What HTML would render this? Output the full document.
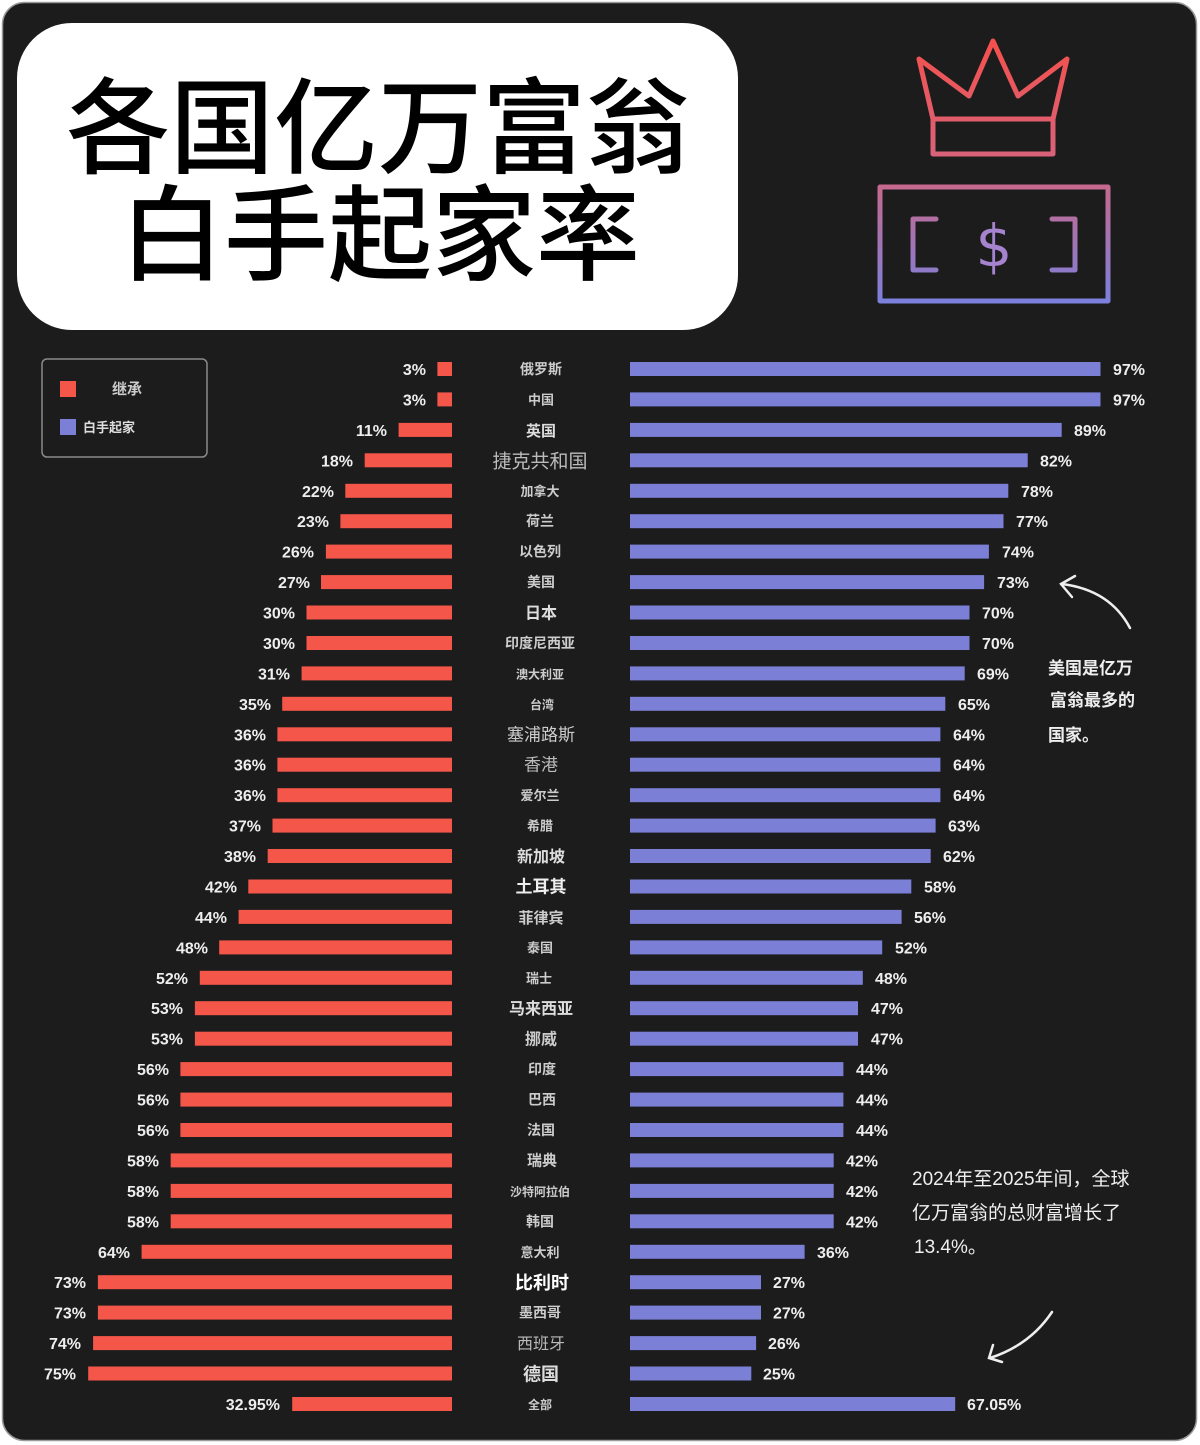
<!DOCTYPE html>
<html><head><meta charset="utf-8"><style>
html,body{margin:0;padding:0;background:#fff;}
svg{display:block;}
</style></head><body>
<svg width="1200" height="1445" viewBox="0 0 1200 1445" xmlns="http://www.w3.org/2000/svg" font-family="Liberation Sans, Noto Sans CJK SC, sans-serif">
<defs>
<linearGradient id="g" x1="0" y1="40" x2="0" y2="302" gradientUnits="userSpaceOnUse">
<stop offset="0" stop-color="#f5504c"/><stop offset="0.45" stop-color="#d8637a"/><stop offset="1" stop-color="#7b80dc"/>
</linearGradient>
</defs>
<rect x="2.5" y="2.5" width="1194" height="1438" rx="22" fill="#1c1c1d" stroke="#9a9a9a" stroke-width="1.5"/>
<rect x="17" y="23" width="721" height="307" rx="55" fill="#fff"/>
<text x="378" y="165" text-anchor="middle" font-size="104" font-family="Noto Sans CJK SC, sans-serif" font-weight="500" fill="#000">各国亿万富翁</text>
<text x="380" y="272" text-anchor="middle" font-size="104" font-family="Noto Sans CJK SC, sans-serif" font-weight="500" fill="#000">白手起家率</text>
<g fill="none" stroke="url(#g)" stroke-width="5" stroke-linejoin="round" stroke-linecap="round">
<polyline points="933,119 919,59 969,96 993,41 1018,96 1067,59 1053,119"/>
<rect x="933" y="119" width="120" height="35"/>
<rect x="880" y="187" width="228" height="114"/>
<polyline points="936,219 913,219 913,270 936,270"/>
<polyline points="1052,219 1075,219 1075,270 1052,270"/>
</g>
<text x="994" y="266" text-anchor="middle" font-size="58" fill="#a583cf" font-family="DejaVu Sans, sans-serif">$</text>
<rect x="42" y="359" width="165" height="98" rx="5" fill="none" stroke="#8a8a8a" stroke-width="1.5"/>
<rect x="60" y="381" width="16" height="16" fill="#f5564a"/>
<rect x="60" y="419" width="16" height="16" fill="#7b7fd6"/>
<text x="112" y="394" font-size="15" fill="#ccc" font-weight="bold">继承</text>
<text x="83" y="432" font-size="13" fill="#ddd" font-weight="bold">白手起家</text>
<g font-weight="bold" font-size="16" fill="#eee">
<g transform="translate(0,369)"><rect x="437.4" y="-7" width="14.6" height="14" fill="#f5564a"/><text x="426" y="6" text-anchor="end">3%</text><text x="541" y="5" text-anchor="middle" font-size="14" fill="#ccc">俄罗斯</text><rect x="630" y="-7" width="470.5" height="14" fill="#7b7fd6"/><text x="1113" y="6">97%</text></g>
<g transform="translate(0,399.4)"><rect x="437.4" y="-7" width="14.6" height="14" fill="#f5564a"/><text x="426" y="6" text-anchor="end">3%</text><text x="541" y="5" text-anchor="middle" font-size="13" fill="#ccc">中国</text><rect x="630" y="-7" width="470.5" height="14" fill="#7b7fd6"/><text x="1113" y="6">97%</text></g>
<g transform="translate(0,429.9)"><rect x="398.6" y="-7" width="53.4" height="14" fill="#f5564a"/><text x="387" y="6" text-anchor="end">11%</text><text x="541" y="6" text-anchor="middle" font-size="15" fill="#ddd">英国</text><rect x="630" y="-7" width="431.7" height="14" fill="#7b7fd6"/><text x="1074" y="6">89%</text></g>
<g transform="translate(0,460.3)"><rect x="364.7" y="-7" width="87.3" height="14" fill="#f5564a"/><text x="353" y="6" text-anchor="end">18%</text><text x="540" y="7" text-anchor="middle" font-size="19" fill="#bbb" font-weight="normal">捷克共和国</text><rect x="630" y="-7" width="397.7" height="14" fill="#7b7fd6"/><text x="1040" y="6">82%</text></g>
<g transform="translate(0,490.8)"><rect x="345.3" y="-7" width="106.7" height="14" fill="#f5564a"/><text x="334" y="6" text-anchor="end">22%</text><text x="540" y="5" text-anchor="middle" font-size="13" fill="#ccc">加拿大</text><rect x="630" y="-7" width="378.3" height="14" fill="#7b7fd6"/><text x="1021" y="6">78%</text></g>
<g transform="translate(0,521.2)"><rect x="340.4" y="-7" width="111.6" height="14" fill="#f5564a"/><text x="329" y="6" text-anchor="end">23%</text><text x="540" y="5" text-anchor="middle" font-size="14" fill="#ccc">荷兰</text><rect x="630" y="-7" width="373.5" height="14" fill="#7b7fd6"/><text x="1016" y="6">77%</text></g>
<g transform="translate(0,551.6)"><rect x="325.9" y="-7" width="126.1" height="14" fill="#f5564a"/><text x="314" y="6" text-anchor="end">26%</text><text x="540" y="5" text-anchor="middle" font-size="14" fill="#ccc">以色列</text><rect x="630" y="-7" width="358.9" height="14" fill="#7b7fd6"/><text x="1002" y="6">74%</text></g>
<g transform="translate(0,582.1)"><rect x="321" y="-7" width="131" height="14" fill="#f5564a"/><text x="310" y="6" text-anchor="end">27%</text><text x="541" y="5" text-anchor="middle" font-size="14" fill="#ccc">美国</text><rect x="630" y="-7" width="354.1" height="14" fill="#7b7fd6"/><text x="997" y="6">73%</text></g>
<g transform="translate(0,612.5)"><rect x="306.5" y="-7" width="145.5" height="14" fill="#f5564a"/><text x="295" y="6" text-anchor="end">30%</text><text x="541" y="6" text-anchor="middle" font-size="16" fill="#ddd">日本</text><rect x="630" y="-7" width="339.5" height="14" fill="#7b7fd6"/><text x="982" y="6">70%</text></g>
<g transform="translate(0,643)"><rect x="306.5" y="-7" width="145.5" height="14" fill="#f5564a"/><text x="295" y="6" text-anchor="end">30%</text><text x="540" y="5" text-anchor="middle" font-size="14" fill="#ccc">印度尼西亚</text><rect x="630" y="-7" width="339.5" height="14" fill="#7b7fd6"/><text x="982" y="6">70%</text></g>
<g transform="translate(0,673.4)"><rect x="301.6" y="-7" width="150.4" height="14" fill="#f5564a"/><text x="290" y="6" text-anchor="end">31%</text><text x="540" y="5" text-anchor="middle" font-size="12" fill="#ccc">澳大利亚</text><rect x="630" y="-7" width="334.7" height="14" fill="#7b7fd6"/><text x="977" y="6">69%</text></g>
<g transform="translate(0,703.8)"><rect x="282.2" y="-7" width="169.8" height="14" fill="#f5564a"/><text x="271" y="6" text-anchor="end">35%</text><text x="542" y="5" text-anchor="middle" font-size="12" fill="#ccc">台湾</text><rect x="630" y="-7" width="315.3" height="14" fill="#7b7fd6"/><text x="958" y="6">65%</text></g>
<g transform="translate(0,734.3)"><rect x="277.4" y="-7" width="174.6" height="14" fill="#f5564a"/><text x="266" y="6" text-anchor="end">36%</text><text x="541" y="6" text-anchor="middle" font-size="17" fill="#ccc" font-weight="normal">塞浦路斯</text><rect x="630" y="-7" width="310.4" height="14" fill="#7b7fd6"/><text x="953" y="6">64%</text></g>
<g transform="translate(0,764.7)"><rect x="277.4" y="-7" width="174.6" height="14" fill="#f5564a"/><text x="266" y="6" text-anchor="end">36%</text><text x="541" y="6" text-anchor="middle" font-size="17" fill="#bbb" font-weight="normal">香港</text><rect x="630" y="-7" width="310.4" height="14" fill="#7b7fd6"/><text x="953" y="6">64%</text></g>
<g transform="translate(0,795.2)"><rect x="277.4" y="-7" width="174.6" height="14" fill="#f5564a"/><text x="266" y="6" text-anchor="end">36%</text><text x="540" y="5" text-anchor="middle" font-size="13" fill="#ccc">爱尔兰</text><rect x="630" y="-7" width="310.4" height="14" fill="#7b7fd6"/><text x="953" y="6">64%</text></g>
<g transform="translate(0,825.6)"><rect x="272.5" y="-7" width="179.5" height="14" fill="#f5564a"/><text x="261" y="6" text-anchor="end">37%</text><text x="540" y="5" text-anchor="middle" font-size="13" fill="#ccc">希腊</text><rect x="630" y="-7" width="305.6" height="14" fill="#7b7fd6"/><text x="948" y="6">63%</text></g>
<g transform="translate(0,856)"><rect x="267.7" y="-7" width="184.3" height="14" fill="#f5564a"/><text x="256" y="6" text-anchor="end">38%</text><text x="541" y="6" text-anchor="middle" font-size="16" fill="#ddd">新加坡</text><rect x="630" y="-7" width="300.7" height="14" fill="#7b7fd6"/><text x="943" y="6">62%</text></g>
<g transform="translate(0,886.5)"><rect x="248.3" y="-7" width="203.7" height="14" fill="#f5564a"/><text x="237" y="6" text-anchor="end">42%</text><text x="541" y="6" text-anchor="middle" font-size="17" fill="#eee">土耳其</text><rect x="630" y="-7" width="281.3" height="14" fill="#7b7fd6"/><text x="924" y="6">58%</text></g>
<g transform="translate(0,916.9)"><rect x="238.6" y="-7" width="213.4" height="14" fill="#f5564a"/><text x="227" y="6" text-anchor="end">44%</text><text x="541" y="6" text-anchor="middle" font-size="15" fill="#ccc">菲律宾</text><rect x="630" y="-7" width="271.6" height="14" fill="#7b7fd6"/><text x="914" y="6">56%</text></g>
<g transform="translate(0,947.4)"><rect x="219.2" y="-7" width="232.8" height="14" fill="#f5564a"/><text x="208" y="6" text-anchor="end">48%</text><text x="540" y="5" text-anchor="middle" font-size="13" fill="#ccc">泰国</text><rect x="630" y="-7" width="252.2" height="14" fill="#7b7fd6"/><text x="895" y="6">52%</text></g>
<g transform="translate(0,977.8)"><rect x="199.8" y="-7" width="252.2" height="14" fill="#f5564a"/><text x="188" y="6" text-anchor="end">52%</text><text x="539" y="5" text-anchor="middle" font-size="13" fill="#ccc">瑞士</text><rect x="630" y="-7" width="232.8" height="14" fill="#7b7fd6"/><text x="875" y="6">48%</text></g>
<g transform="translate(0,1008.2)"><rect x="194.9" y="-7" width="257.1" height="14" fill="#f5564a"/><text x="183" y="6" text-anchor="end">53%</text><text x="541" y="6" text-anchor="middle" font-size="16" fill="#ddd">马来西亚</text><rect x="630" y="-7" width="228" height="14" fill="#7b7fd6"/><text x="871" y="6">47%</text></g>
<g transform="translate(0,1038.7)"><rect x="194.9" y="-7" width="257.1" height="14" fill="#f5564a"/><text x="183" y="6" text-anchor="end">53%</text><text x="541" y="6" text-anchor="middle" font-size="16" fill="#ccc">挪威</text><rect x="630" y="-7" width="228" height="14" fill="#7b7fd6"/><text x="871" y="6">47%</text></g>
<g transform="translate(0,1069.1)"><rect x="180.4" y="-7" width="271.6" height="14" fill="#f5564a"/><text x="169" y="6" text-anchor="end">56%</text><text x="542" y="5" text-anchor="middle" font-size="14" fill="#ccc">印度</text><rect x="630" y="-7" width="213.4" height="14" fill="#7b7fd6"/><text x="856" y="6">44%</text></g>
<g transform="translate(0,1099.6)"><rect x="180.4" y="-7" width="271.6" height="14" fill="#f5564a"/><text x="169" y="6" text-anchor="end">56%</text><text x="542" y="5" text-anchor="middle" font-size="14" fill="#ccc">巴西</text><rect x="630" y="-7" width="213.4" height="14" fill="#7b7fd6"/><text x="856" y="6">44%</text></g>
<g transform="translate(0,1130)"><rect x="180.4" y="-7" width="271.6" height="14" fill="#f5564a"/><text x="169" y="6" text-anchor="end">56%</text><text x="541" y="5" text-anchor="middle" font-size="14" fill="#ccc">法国</text><rect x="630" y="-7" width="213.4" height="14" fill="#7b7fd6"/><text x="856" y="6">44%</text></g>
<g transform="translate(0,1160.4)"><rect x="170.7" y="-7" width="281.3" height="14" fill="#f5564a"/><text x="159" y="6" text-anchor="end">58%</text><text x="542" y="5" text-anchor="middle" font-size="15" fill="#ccc">瑞典</text><rect x="630" y="-7" width="203.7" height="14" fill="#7b7fd6"/><text x="846" y="6">42%</text></g>
<g transform="translate(0,1190.9)"><rect x="170.7" y="-7" width="281.3" height="14" fill="#f5564a"/><text x="159" y="6" text-anchor="end">58%</text><text x="540" y="5" text-anchor="middle" font-size="12" fill="#ccc">沙特阿拉伯</text><rect x="630" y="-7" width="203.7" height="14" fill="#7b7fd6"/><text x="846" y="6">42%</text></g>
<g transform="translate(0,1221.3)"><rect x="170.7" y="-7" width="281.3" height="14" fill="#f5564a"/><text x="159" y="6" text-anchor="end">58%</text><text x="540" y="5" text-anchor="middle" font-size="14" fill="#ccc">韩国</text><rect x="630" y="-7" width="203.7" height="14" fill="#7b7fd6"/><text x="846" y="6">42%</text></g>
<g transform="translate(0,1251.8)"><rect x="141.6" y="-7" width="310.4" height="14" fill="#f5564a"/><text x="130" y="6" text-anchor="end">64%</text><text x="540" y="5" text-anchor="middle" font-size="13" fill="#ccc">意大利</text><rect x="630" y="-7" width="174.6" height="14" fill="#7b7fd6"/><text x="817" y="6">36%</text></g>
<g transform="translate(0,1282.2)"><rect x="97.9" y="-7" width="354.1" height="14" fill="#f5564a"/><text x="86" y="6" text-anchor="end">73%</text><text x="542" y="7" text-anchor="middle" font-size="18" fill="#fff">比利时</text><rect x="630" y="-7" width="131" height="14" fill="#7b7fd6"/><text x="773" y="6">27%</text></g>
<g transform="translate(0,1312.6)"><rect x="97.9" y="-7" width="354.1" height="14" fill="#f5564a"/><text x="86" y="6" text-anchor="end">73%</text><text x="540" y="5" text-anchor="middle" font-size="14" fill="#ccc">墨西哥</text><rect x="630" y="-7" width="131" height="14" fill="#7b7fd6"/><text x="773" y="6">27%</text></g>
<g transform="translate(0,1343.1)"><rect x="93.1" y="-7" width="358.9" height="14" fill="#f5564a"/><text x="81" y="6" text-anchor="end">74%</text><text x="541" y="6" text-anchor="middle" font-size="16" fill="#bbb" font-weight="normal">西班牙</text><rect x="630" y="-7" width="126.1" height="14" fill="#7b7fd6"/><text x="768" y="6">26%</text></g>
<g transform="translate(0,1373.5)"><rect x="88.2" y="-7" width="363.8" height="14" fill="#f5564a"/><text x="76" y="6" text-anchor="end">75%</text><text x="541" y="7" text-anchor="middle" font-size="18" fill="#ddd">德国</text><rect x="630" y="-7" width="121.3" height="14" fill="#7b7fd6"/><text x="763" y="6">25%</text></g>
<g transform="translate(0,1404)"><rect x="292.2" y="-7" width="159.8" height="14" fill="#f5564a"/><text x="280" y="6" text-anchor="end">32.95%</text><text x="540" y="5" text-anchor="middle" font-size="12" fill="#ccc">全部</text><rect x="630" y="-7" width="325.2" height="14" fill="#7b7fd6"/><text x="967" y="6">67.05%</text></g>
</g>
<g font-weight="bold" fill="#eee" font-size="17">
<text x="1048" y="674">美国是亿万</text>
<text x="1050" y="706">富翁最多的</text>
<text x="1048" y="741">国家。</text>
</g>
<g fill="#eee" font-size="19">
<text x="912" y="1185">2024年至2025年间，全球</text>
<text x="912" y="1219">亿万富翁的总财富增长了</text>
<text x="914" y="1253">13.4%。</text>
</g>
<g fill="none" stroke="#eee" stroke-width="2.5" stroke-linecap="round">
<path d="M1130,628 Q1110,590 1062,584"/>
<polyline points="1075,576 1061,584 1072,597"/>
<path d="M1052,1312 Q1030,1345 990,1358"/>
<polyline points="993,1345 989,1358 1002,1362"/>
</g>
</svg>
</body></html>
